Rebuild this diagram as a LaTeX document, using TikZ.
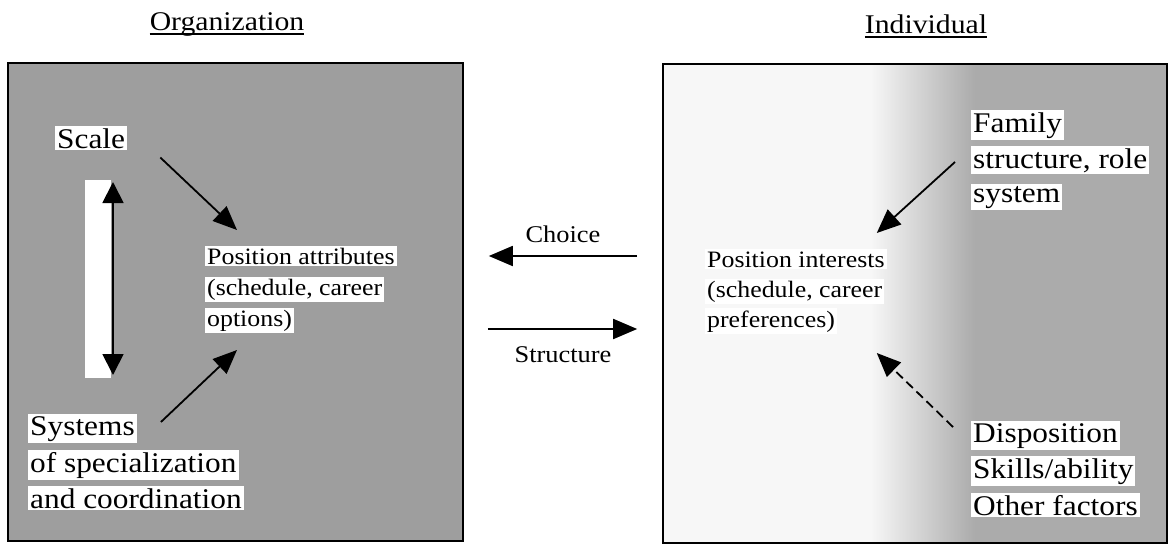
\documentclass[tikz,border=0pt]{standalone}
\usepackage{fontspec}
\setmainfont{Liberation Serif}[FakeStretch=1.1]
\usetikzlibrary{arrows.meta}
\tikzset{
  big/.style={font=\fontsize{28.5}{32}\selectfont, anchor=base west, inner sep=2pt, fill=white},
  small/.style={font=\fontsize{23.5}{27}\selectfont, anchor=base west, inner sep=2pt, fill=white},
  title/.style={font=\fontsize{27}{30}\selectfont, anchor=base, inner sep=0pt},
  flow/.style={font=\fontsize{24}{27}\selectfont, anchor=base, inner sep=0pt},
  panel/.style={draw, line width=1.6pt, inner sep=0pt},
  arr/.style={line width=1.8pt, -{Triangle[length=24pt,width=20pt]}},
  darr/.style={line width=1.8pt, {Triangle[length=21pt,width=21pt]}-{Triangle[length=21pt,width=21pt]}},
  underl/.style={line width=1.3pt},
}
\begin{document}
\begin{tikzpicture}[x=1pt,y=-1pt]
\useasboundingbox (0,0) rectangle (1172,546);

% panel shading
\fill[black!38] (8,63) rectangle (463,541);
\fill[black!3] (663,64) rectangle (870,543);
\shade[left color=black!3,right color=black!33] (870,64) rectangle (975,543);
\fill[black!33] (975,64) rectangle (1167,543);
\fill[white] (85,180) rectangle (111,378);

% panels
\node[panel, minimum width=455pt, minimum height=478pt] (orgbox) at (235.5,302) {};
\node[panel, minimum width=504pt, minimum height=479pt] (indbox) at (915,303.5) {};

% titles
\node[title] (org) at (227,30) {Organization};
\node[title] (ind) at (926,33) {Individual};
\draw[underl] ([yshift=-4pt]org.base west) -- ([yshift=-4pt]org.base east);
\draw[underl] ([yshift=-4pt]ind.base west) -- ([yshift=-4pt]ind.base east);

% organization side
\node[big] (scale) at (55,148) {Scale};
\node[small] (pa1) at (205,264) {Position attributes};
\node[small] (pa2) at (205,295) {(schedule, career};
\node[small] (pa3) at (205,326) {options)};
\node[big] (sys1) at (28,435) {Systems};
\node[big] (sys2) at (28,472) {of specialization};
\node[big] (sys3) at (28,508) {and coordination};

% individual side
\node[big] (fam1) at (971,132) {Family};
\node[big] (fam2) at (971,168) {structure, role};
\node[big] (fam3) at (971,202) {system};
\node[small] (pi1) at (705,267) {Position interests};
\node[small] (pi2) at (705,297) {(schedule, career};
\node[small] (pi3) at (705,327) {preferences)};
\node[big] (dis1) at (971,442) {Disposition};
\node[big] (dis2) at (971,478) {Skills/ability};
\node[big] (dis3) at (971,515) {Other factors};

% flow labels
\node[flow] (choice) at (563,242) {Choice};
\node[flow] (structure) at (563,362) {Structure};

% connectors
\coordinate (scTop) at (113,182);
\coordinate (scBot) at (113,375);
\draw[darr] (scTop) -- (scBot);
\draw[arr] ([shift={(33,7)}]scale.south east) -- ([shift={(32,-34)}]pa1.base west);
\draw[arr] ([shift={(24,-13)}]sys1.base east) -- ([shift={(32,24)}]pa3.base west);
\draw[arr] ([shift={(-25,-47.5)}]indbox.west) -- ([shift={(25,-46)}]orgbox.east);
\draw[arr] ([shift={(24,27)}]orgbox.east) -- ([shift={(-25,25.5)}]indbox.west);
\draw[arr] ([shift={(-16,-6)}]fam2.base west) -- ([shift={(-10,-34)}]pi1.base east);
\draw[arr, dash pattern=on 9pt off 5pt] ([shift={(-18,-15)}]dis1.base west) -- ([shift={(-10,86)}]pi1.base east);
\end{tikzpicture}
\end{document}
